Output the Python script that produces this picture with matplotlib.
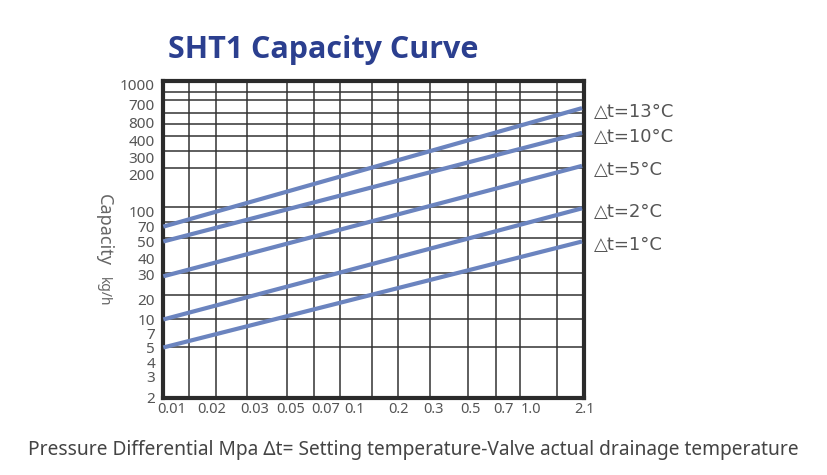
import numpy as np
import matplotlib.pyplot as plt

plt.rcParams['font.family'] = ['Noto Sans', 'DejaVu Sans']

# chart values
y_labels = ['1000', '700', '800', '400', '300', '200', '100', '70', '50', '40',
            '30', '20', '10', '7', '5', '4', '3', '2']
y_label_pos = [85, 105, 122.7, 140.7, 158, 175, 212.7, 228, 243, 260,
               276, 301.7, 321.7, 336, 350, 365, 379, 400.7]
x_labels = ['0.01', '0.02', '0.03', '0.05', '0.07', '0.1', '0.2', '0.3',
            '0.5', '0.7', '1.0', '2.1']
x_label_pos = [171.7, 211.7, 255, 291.7, 326.7, 355, 400, 435, 471.7, 505, 533, 586]
h_grid = [92.3, 100, 113.3, 124.3, 136.7, 151.7, 169.3, 207.7, 223.3, 239,
          275, 297.3, 321.7, 350]
v_grid = [189.3, 216.7, 247.7, 287.7, 314.3, 341, 373.3, 398.7, 431, 469.3,
          497.7, 521.7, 559.3]

curves = ['△t=13°C', '△t=10°C', '△t=5°C', '△t=2°C', '△t=1°C']
cap_start = [70, 50, 29, 10, 5]        # kg/h at 0.01 MPa
cap_end = [780, 503, 244, 106, 50]     # kg/h at 2.1 MPa
pressure = [0.01, 2.1]

# monotone scale used by the printed grid (700/800 labels are swapped in the original)
scale_vals = [2, 3, 4, 5, 7, 10, 20, 30, 40, 50, 70, 100, 200, 300, 400, 700, 800, 1000]
scale_pos = [400.7, 379, 365, 350, 336, 321.7, 301.7, 276, 260, 243, 228,
             212.7, 175, 158, 140.7, 122.7, 105, 85]
X0, X1, Y0, Y1 = 163.3, 584, 397.7, 81


def ymap(v):
    return np.interp(np.log10(v), np.log10(scale_vals), scale_pos)


def xmap(p):
    p = np.log10(p)
    return X0 + (p - p[0]) / (p[-1] - p[0]) * (X1 - X0)


fig = plt.figure(figsize=(8.27, 4.75), dpi=100)
ax = fig.add_axes([0.1975, 0.1627, 0.5087, 0.6668])
ax.set_xlim(X0, X1)
ax.set_ylim(Y0, Y1)

for y in h_grid:
    ax.axhline(y, color='#333333', lw=1.1, zorder=1)
for x in v_grid:
    ax.axvline(x, color='#333333', lw=1.1, zorder=1)

#draw capacity curves and their labels
xs = xmap(np.array(pressure))
for name, a, b in zip(curves, cap_start, cap_end):
    ys = ymap(np.array([a, b]))
    ax.plot(xs, ys, color='#6b84bf', lw=3, solid_capstyle='butt', zorder=3, clip_on=False)
    ax.text(X1 + 12, ys[1] + 4, name, fontsize=13, color='#555555', va='center', ha='left',
            family=['DejaVu Sans'])

for s in ax.spines.values():
    s.set_linewidth(3)
    s.set_color('#2b2b2b')
ax.set_xticks(x_label_pos)
ax.set_xticklabels(x_labels, fontsize=10.5, color='#555555')
ax.set_yticks(y_label_pos)
ax.set_yticklabels(y_labels, fontsize=11, color='#555555')
ax.tick_params(length=0, pad=3)
ax.tick_params(axis='y', pad=6)

fig.text(0.391, 0.895, 'SHT1 Capacity Curve', fontsize=22, fontweight='bold',
         color='#2b3f8f', ha='center', va='center', family=['Open Sans', 'DejaVu Sans'])
fig.text(0.125, 0.515, 'Capacity', fontsize=13, color='#666666', rotation=-90,
         ha='center', va='center')
fig.text(0.125, 0.385, 'kg/h', fontsize=10, color='#666666', rotation=-90,
         ha='center', va='center')
fig.text(0.5, 0.052, 'Pressure Differential Mpa Δt= Setting temperature-Valve actual drainage temperature',
         fontsize=13.8, color='#444444', ha='center', va='center')

fig.savefig('out.png', dpi=100)
